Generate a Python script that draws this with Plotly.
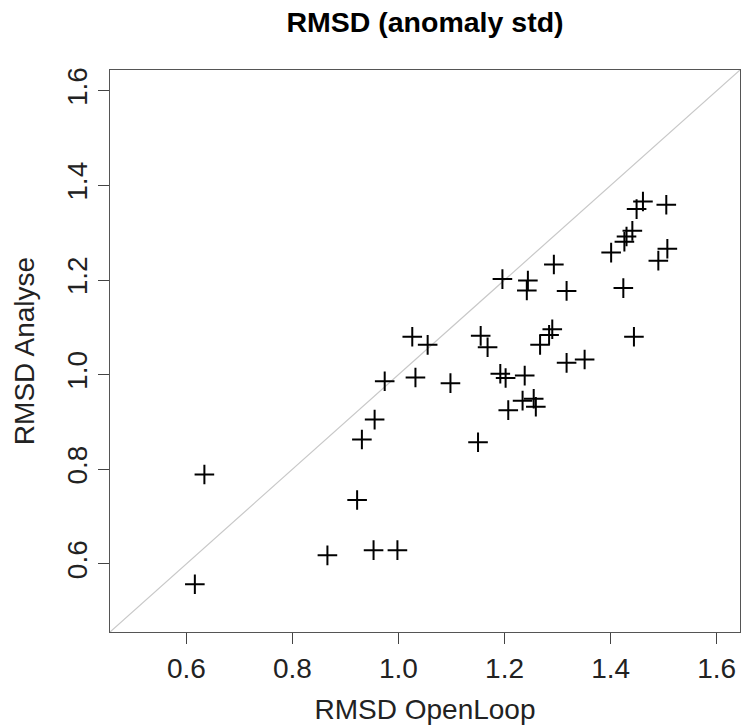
import plotly.graph_objects as go

openloop = [1.461, 1.449, 1.505, 1.441, 1.430, 1.426, 1.507, 1.401, 1.490, 1.293,
            1.196, 1.244, 1.242, 1.317, 1.424, 1.290, 1.284, 1.267, 1.026, 1.055,
            1.155, 1.168, 1.444, 1.317, 1.351, 1.192, 1.202, 1.238, 0.974, 1.032,
            1.098, 1.234, 1.255, 1.259, 1.207, 0.955, 0.931, 1.150, 0.634, 0.922,
            0.866, 0.953, 0.998, 0.616]
analyse = [1.366, 1.350, 1.359, 1.304, 1.292, 1.281, 1.266, 1.258, 1.241, 1.233,
           1.202, 1.199, 1.178, 1.177, 1.183, 1.096, 1.084, 1.063, 1.080, 1.063,
           1.082, 1.058, 1.080, 1.025, 1.032, 1.002, 0.993, 0.998, 0.986, 0.994,
           0.982, 0.945, 0.949, 0.932, 0.925, 0.905, 0.863, 0.857, 0.789, 0.735,
           0.618, 0.629, 0.629, 0.557]
tick_vals = [0.6, 0.8, 1.0, 1.2, 1.4, 1.6]
tick_text = ["0.6", "0.8", "1.0", "1.2", "1.4", "1.6"]
axis_range = [0.456, 1.644]

font = "Liberation Sans, Arial, sans-serif"
fsize = 28

fig = go.Figure()
fig.add_trace(go.Scatter(x=axis_range, y=axis_range, mode="lines",
                         line=dict(color="#c8c8c8", width=1.2), hoverinfo="skip",
                         showlegend=False))
fig.add_trace(go.Scatter(x=openloop, y=analyse, mode="markers",
                         marker=dict(symbol="cross-thin", size=14,
                                     line=dict(color="black", width=2)),
                         showlegend=False))

axis_common = dict(range=axis_range, tickvals=tick_vals, ticktext=tick_text,
                   ticks="outside", ticklen=11, tickwidth=1.2, tickcolor="#444",
                   showline=True, linecolor="#555", linewidth=1.3, mirror=True,
                   showgrid=False, zeroline=False,
                   tickfont=dict(family=font, size=fsize, color="#222"))

fig.update_layout(
    width=742, height=725,
    margin=dict(l=110, r=2, t=70, b=93),
    paper_bgcolor="white", plot_bgcolor="white",
    title=dict(text="<b>RMSD (anomaly std)</b>", x=0.5, xref="paper",
               y=1 - 22 / 725, yref="container", yanchor="middle",
               font=dict(family=font, size=28.5, color="black")),
    xaxis=dict(**axis_common,
               title=dict(text="RMSD OpenLoop", standoff=18,
                          font=dict(family=font, size=fsize, color="#222"))),
    yaxis=dict(**axis_common, tickangle=-90,
               title=dict(text="RMSD Analyse", standoff=18,
                          font=dict(family=font, size=fsize, color="#222"))),
)

fig.write_html("out.html")
